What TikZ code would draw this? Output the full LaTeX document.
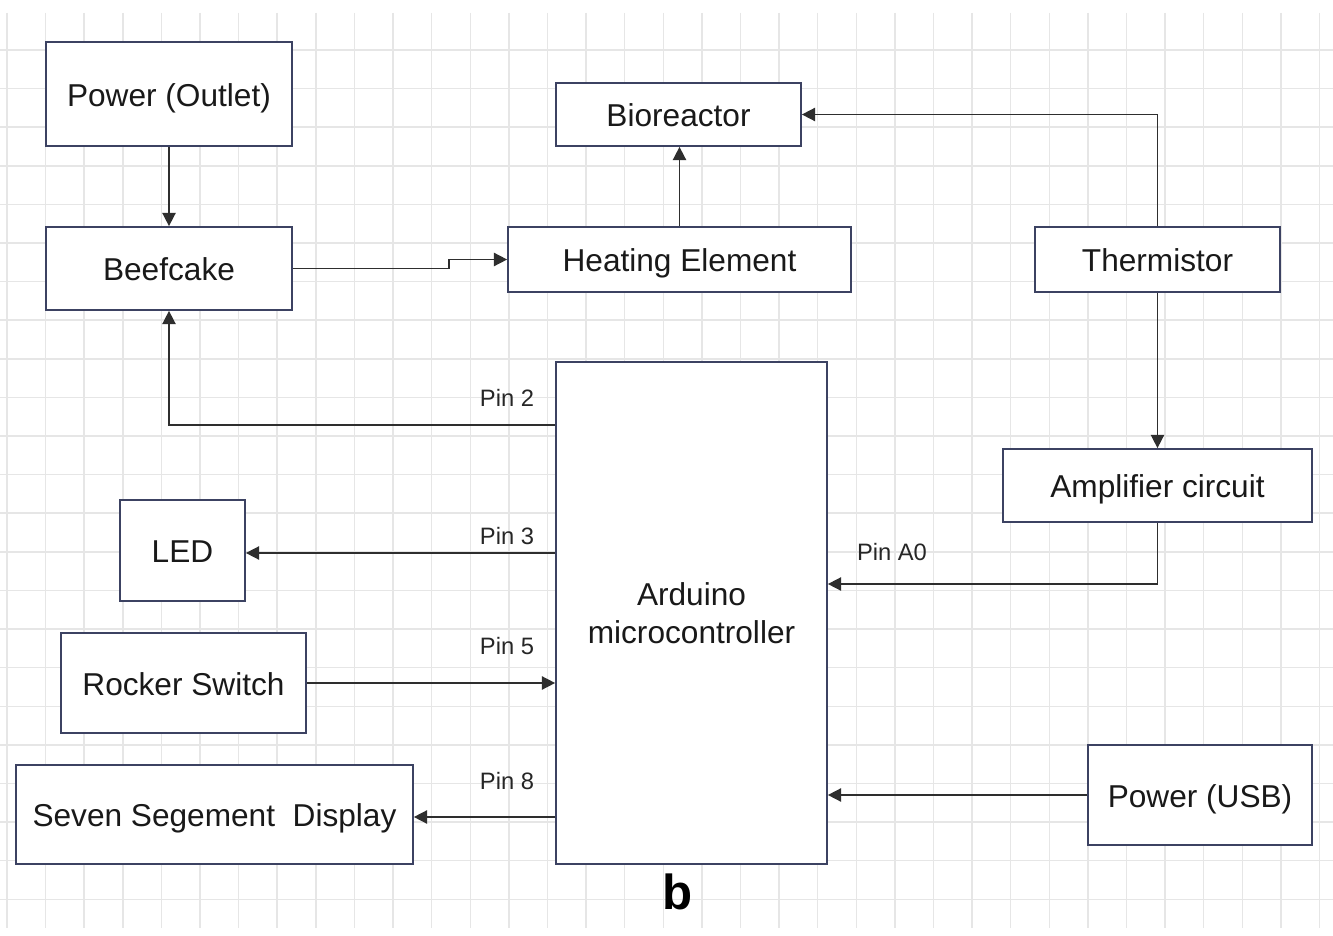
\documentclass[tikz,border=0pt]{standalone}
\usepackage{fontspec}
\setmainfont{Liberation Sans}
\usetikzlibrary{arrows.meta,calc}
\definecolor{boxline}{HTML}{3C4262}
\definecolor{wire}{HTML}{2E2E2E}
\definecolor{gridc}{HTML}{E6E6E6}
\begin{document}
\begin{tikzpicture}[x=0.02cm,y=-0.02cm,
 blkbase/.style={draw=boxline,line width=1pt,fill=white,rectangle,inner sep=0pt,
   font=\fontsize{18}{21.5}\selectfont,text=black!90},
 blk/.style={blkbase,text height=14pt,text depth=0pt},
 conn/.style={draw=wire,line width=0.9pt,-{Triangle[length=7.5pt,width=7.5pt]}},
 pinlbl/.style={font=\fontsize{13.5}{16}\selectfont,text=black!85,inner sep=0pt}]
\useasboundingbox (0,0) rectangle (1333,936);
\fill[white] (0,0) rectangle (1333,936);
\foreach \k in {0,...,34} \draw[gridc,line width=0.8pt] ({7+38.6*\k},13) -- ({7+38.6*\k},928);
\foreach \k in {0,...,22} \draw[gridc,line width=0.8pt] (0,{50+38.6*\k}) -- (1333,{50+38.6*\k});

\node[blk,minimum width=4.92cm,minimum height=2.08cm] (po) at (169,94) {Power (Outlet)};
\node[blk,minimum width=4.92cm,minimum height=1.66cm] (beef) at (169,268.5) {Beefcake};
\node[blk,minimum width=4.90cm,minimum height=1.26cm] (bio) at (678.5,114.5) {Bioreactor};
\node[blk,minimum width=6.86cm,minimum height=1.30cm] (heat) at (679.5,259.5) {Heating Element};
\node[blk,minimum width=4.90cm,minimum height=1.30cm] (therm) at (1157.5,259.5) {Thermistor};
\node[blkbase,minimum width=5.42cm,minimum height=10.04cm,align=center,
  font=\fontsize{18}{21.6}\selectfont] (ard) at (691.5,613) {Arduino\\microcontroller};
\node[blk,minimum width=6.18cm,minimum height=1.46cm] (amp) at (1157.5,485.5) {Amplifier circuit};
\node[blk,minimum width=2.50cm,minimum height=2.02cm] (led) at (182.5,550.5) {LED};
\node[blk,minimum width=4.90cm,minimum height=2.00cm] (rock) at (183.5,683) {Rocker Switch};
\node[blk,minimum width=7.94cm,minimum height=1.98cm] (seven) at (214.5,814.5) {Seven Segement\ \ Display};
\node[blk,minimum width=4.48cm,minimum height=2.00cm] (usb) at (1200,795) {Power (USB)};

\coordinate (j1) at (449,268.5);
\coordinate (ledin) at ([yshift=-0.05cm]led.east);
\coordinate (sevenin) at ([yshift=-0.05cm]seven.east);
\draw[conn] (po.south) -- (beef.north);
\draw[conn] (beef.east) -- (j1) |- (heat.west);
\draw[conn] (heat.north) -- (heat.north |- bio.south);
\draw[conn] (therm.north) |- (bio.east);
\draw[conn] (therm.south) -- (amp.north);
\draw[conn] (amp.south) |- ([yshift=0.58cm]ard.east);
\draw[conn] ([yshift=3.76cm]ard.west) -| (beef.south);
\draw[conn] (ard.west |- ledin) -- (ledin);
\draw[conn] (rock.east) -- (rock.east -| ard.west);
\draw[conn] (ard.west |- sevenin) -- (sevenin);
\draw[conn] (usb.west) -- (usb.west -| ard.east);

\node[pinlbl] (p2) at (507,398) {Pin 2};
\node[pinlbl] (p3) at (507,536) {Pin 3};
\node[pinlbl] (p5) at (507,646) {Pin 5};
\node[pinlbl] (p8) at (507,781) {Pin 8};
\node[pinlbl] (pa0) at (892,552) {Pin A0};
\node[font=\fontsize{28}{32}\selectfont\bfseries,inner sep=0pt] (lblb) at (678,892) {b};
\end{tikzpicture}
\end{document}
